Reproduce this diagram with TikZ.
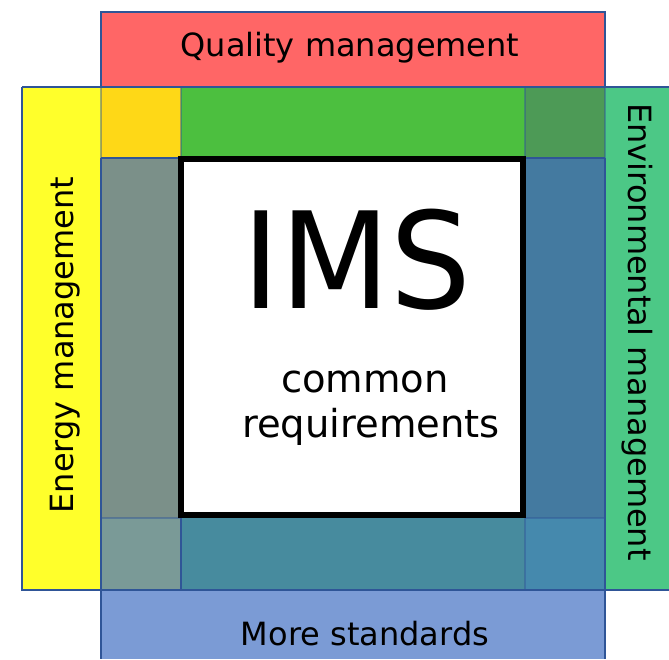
\documentclass[tikz,border=0pt]{standalone}
\usepackage{fontspec}
\setmainfont{DejaVu Sans}
\definecolor{cRed}{HTML}{FF6666}
\definecolor{cYel}{HTML}{FFFF2B}
\definecolor{cEnv}{HTML}{4CC886}
\definecolor{cBlue}{HTML}{7B9BD5}
\definecolor{cYO}{HTML}{FED817}
\definecolor{cGreen}{HTML}{4CBF3F}
\definecolor{cDkGreen}{HTML}{4D9A56}
\definecolor{cGreyGreen}{HTML}{7B9089}
\definecolor{cSteel}{HTML}{447AA0}
\definecolor{cBL}{HTML}{7A9A97}
\definecolor{cTeal}{HTML}{478B9E}
\definecolor{cBR}{HTML}{4589AD}
\definecolor{cLine}{HTML}{2F5597}
\tikzset{
  region/.style={draw=none},
  outline/.style={draw=cLine, line width=1.5pt},
  faint/.style={draw=cLine, line width=1.2pt, draw opacity=0.45},
  label/.style={font=\fontsize{32}{38}\selectfont, inner sep=0pt, anchor=base},
}
\begin{document}
\begin{tikzpicture}[x=1pt,y=-1pt]
\useasboundingbox (0,0) rectangle (669,659);
% fills
\fill[cRed] (101,12) rectangle (605,87);
\fill[cYel] (22,87) rectangle (101,590);
\fill[cEnv] (605,87) rectangle (669,590);
\fill[cBlue] (101,590) rectangle (605,659);
\fill[cYO] (101,87) rectangle (181,158);
\fill[cGreen] (181,87) rectangle (525,158);
\fill[cDkGreen] (525,87) rectangle (605,158);
\fill[cGreyGreen] (101,158) rectangle (181,518);
\fill[cSteel] (525,158) rectangle (605,518);
\fill[cBL] (101,518) rectangle (181,590);
\fill[cTeal] (181,518) rectangle (525,590);
\fill[cBR] (525,518) rectangle (605,590);
% faint inner lines
\draw[faint] (101,87) -- (101,158);
\draw[faint] (181,87) -- (181,158);
\draw[faint] (525,87) -- (525,158);
\draw[faint] (605,87) -- (605,158);
\draw[faint] (101,518) -- (181,518);
\draw[faint] (525,518) -- (605,518);
\draw[faint] (525,518) -- (525,590);
% outlines
\draw[outline] (101,87) -- (101,12) -- (605,12) -- (605,87);
\draw[outline] (22,87) -- (669,87);
\draw[outline] (22,87) -- (22,590) -- (669,590);
\draw[outline] (101,158) -- (101,659);
\draw[outline] (605,158) -- (605,659);
\draw[outline] (101,158) -- (181,158);
\draw[outline] (525,158) -- (605,158);
\draw[outline] (181,518) -- (181,590);
% central box
\node[draw=black, fill=white, line width=6pt, minimum width=342pt, minimum height=356pt, inner sep=0pt] (ims) at (352,337) {};
% texts
\node[label] (quality) at (350,56) {Quality management};
\node[label] (more) at (365,645) {More standards};
\node[label, rotate=90] (energy) at (73,345) {Energy management};
\node[label, rotate=-90] (env) at (628,332) {Environmental management};
\node[inner sep=0pt, anchor=base, font=\fontsize{134}{140}\selectfont, xscale=0.95] (imst) at (357,308) {IMS};
\node[inner sep=0pt, anchor=base, font=\fontsize{38.5}{45}\selectfont] (common) at (365,392) {common};
\node[inner sep=0pt, anchor=base, font=\fontsize{38.5}{45}\selectfont] (req) at (371,437) {requirements};
\end{tikzpicture}
\end{document}
